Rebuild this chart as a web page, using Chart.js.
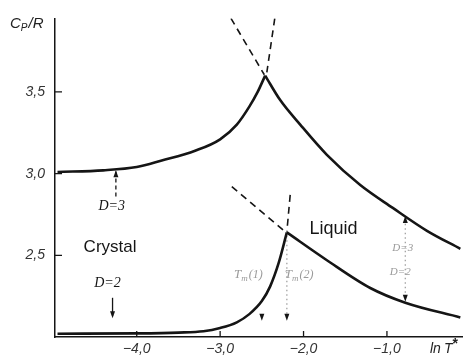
<!DOCTYPE html>
<html lang="en">
<head>
<meta charset="UTF-8">
<title>Cp/R against ln T*</title>
<script src="https://cdn.jsdelivr.net/npm/chart.js"></script>
<style>
  html, body { margin: 0; padding: 0; background: #fff; }
</style>
</head>
<body>
<canvas id="cpChart" width="471" height="358"></canvas>
<script>
// D = 3: crystal branch up to the melting point, then the liquid branch
const lnT3Crystal = [-4.95, -4.4, -4.0, -3.7, -3.3, -3.0, -2.8, -2.65, -2.55, -2.46];
const cp3Crystal  = [3.01, 3.02, 3.04, 3.08, 3.14, 3.21, 3.30, 3.41, 3.50, 3.60];
const lnT3Liquid  = [-2.46, -2.28, -2.04, -1.72, -1.32, -0.93, -0.52, -0.12];
const cp3Liquid   = [3.60, 3.45, 3.30, 3.115, 2.93, 2.79, 2.65, 2.54];

// D = 2
const lnT2Crystal = [-4.95, -4.0, -3.5, -3.2, -3.0, -2.8, -2.65, -2.5, -2.4, -2.3, -2.2];
const cp2Crystal  = [2.02, 2.022, 2.027, 2.035, 2.055, 2.09, 2.14, 2.22, 2.31, 2.45, 2.64];
const lnT2Liquid  = [-2.20, -1.72, -1.20, -0.78, -0.12];
const cp2Liquid   = [2.64, 2.47, 2.30, 2.21, 2.12];

// dashed continuations past the melting points
const lnT3DashA = [-2.87, -2.47];  const cp3DashA = [3.95, 3.605];
const lnT3DashB = [-2.345, -2.44]; const cp3DashB = [3.95, 3.62];
const lnT2DashA = [-2.86, -2.21];  const cp2DashA = [2.92, 2.64];
const lnT2DashB = [-2.16, -2.20];  const cp2DashB = [2.87, 2.645];

// dotted guides: Tm(2) drop line and the D=3 / D=2 gap on the liquid side
const lnTDrop = [-2.20, -2.20];    const cpDrop = [2.62, 2.12];
const lnTGap  = [-0.78, -0.78];    const cpGap  = [2.72, 2.23];

const xTicks = [-4, -3, -2, -1];
const yTicks = [2.5, 3.0, 3.5];

const pts = (xs, ys) => xs.map((x, i) => ({ x: x, y: ys[i] }));
const fmt = v => (v < 0 ? '\u2212' : '') + Math.abs(v).toFixed(1).replace('.', ',');

const INK = '#151515';
const FAINT = '#9a9a9a';

function solid(xs, ys) {
  return { data: pts(xs, ys), borderColor: INK, borderWidth: 2.6, pointRadius: 0,
           cubicInterpolationMode: 'monotone', fill: false };
}
function dashed(xs, ys) {
  return { data: pts(xs, ys), borderColor: INK, borderWidth: 1.6, borderDash: [7, 5],
           pointRadius: 0, tension: 0, fill: false };
}
function dotted(xs, ys) {
  return { data: pts(xs, ys), borderColor: FAINT, borderWidth: 1.2, borderDash: [1.5, 3],
           pointRadius: 0, tension: 0, fill: false };
}

// labels placed in data units
const notes = [
  { text: 'D=3', x: -4.30, y: 2.80, font: 'italic 14px "Liberation Serif"', color: INK },
  { text: 'Crystal', x: -4.32, y: 2.55, font: '17px "Liberation Sans"', color: INK },
  { text: 'D=2', x: -4.35, y: 2.33, font: 'italic 14px "Liberation Serif"', color: INK },
  { text: 'Liquid', x: -1.64, y: 2.66, font: '18px "Liberation Sans"', color: INK },
  { text: 'D=3', x: -0.81, y: 2.545, font: 'italic 11px "Liberation Serif"', color: FAINT },
  { text: 'D=2', x: -0.84, y: 2.40, font: 'italic 11px "Liberation Serif"', color: FAINT }
];
const tmLabels = [
  { sub: '(1)', x: -2.63, y: 2.39 },
  { sub: '(2)', x: -2.02, y: 2.39 }
];
// arrow shafts (x, y from, y to) and arrowheads
const arrowShafts = [
  { x: -4.25, y0: 2.86, y1: 3.02, dash: [4, 3] },
  { x: -4.29, y0: 2.24, y1: 2.13, dash: [] }
];
const heads = [
  { x: -4.25, y: 3.02, dir: -1 },
  { x: -4.29, y: 2.115, dir: 1 },
  { x: -2.50, y: 2.10, dir: 1 },
  { x: -2.20, y: 2.10, dir: 1 },
  { x: -0.78, y: 2.74, dir: -1 },
  { x: -0.78, y: 2.215, dir: 1 }
];

const decor = {
  id: 'decor',
  afterDatasetsDraw(chart) {
    const { ctx, chartArea: a, scales: { x, y } } = chart;
    ctx.save();

    // inward tick marks
    ctx.strokeStyle = INK;
    ctx.lineWidth = 1.3;
    ctx.beginPath();
    yTicks.forEach(v => { const py = y.getPixelForValue(v); ctx.moveTo(a.left, py); ctx.lineTo(a.left + 7, py); });
    xTicks.forEach(v => { const px = x.getPixelForValue(v); ctx.moveTo(px, a.bottom); ctx.lineTo(px, a.bottom - 6); });
    ctx.stroke();

    // arrow shafts
    arrowShafts.forEach(s => {
      const px = x.getPixelForValue(s.x);
      ctx.setLineDash(s.dash);
      ctx.lineWidth = 1.3;
      ctx.beginPath();
      ctx.moveTo(px, y.getPixelForValue(s.y0));
      ctx.lineTo(px, y.getPixelForValue(s.y1));
      ctx.stroke();
    });
    ctx.setLineDash([]);

    // arrowheads, dir 1 points down, -1 up
    ctx.fillStyle = INK;
    heads.forEach(h => {
      const px = x.getPixelForValue(h.x), py = y.getPixelForValue(h.y);
      ctx.beginPath();
      ctx.moveTo(px, py);
      ctx.lineTo(px - 2.5, py - 7 * h.dir);
      ctx.lineTo(px + 2.5, py - 7 * h.dir);
      ctx.closePath();
      ctx.fill();
    });

    // text notes
    ctx.textAlign = 'center';
    ctx.textBaseline = 'middle';
    notes.forEach(n => {
      ctx.font = n.font;
      ctx.fillStyle = n.color;
      ctx.fillText(n.text, x.getPixelForValue(n.x), y.getPixelForValue(n.y));
    });

    // Tm(1), Tm(2)
    ctx.fillStyle = FAINT;
    ctx.textAlign = 'left';
    ctx.textBaseline = 'alphabetic';
    tmLabels.forEach(t => {
      let px = x.getPixelForValue(t.x) - 17, py = y.getPixelForValue(t.y) + 5;
      ctx.font = 'italic 13px "Liberation Serif"';
      ctx.fillText('T', px, py);
      px += ctx.measureText('T').width;
      ctx.font = 'italic 9px "Liberation Serif"';
      ctx.fillText('m', px, py + 3);
      px += ctx.measureText('m').width + 1;
      ctx.font = 'italic 12px "Liberation Serif"';
      ctx.fillText(t.sub, px, py);
    });

    // axis titles
    ctx.fillStyle = '#222';
    let tx = a.left - 45, ty = a.top + 10;
    ctx.font = 'italic 15px "Liberation Sans"';
    ctx.fillText('C', tx, ty);
    tx += ctx.measureText('C').width;
    ctx.font = 'italic 10px "Liberation Sans"';
    ctx.fillText('P', tx, ty + 3);
    tx += ctx.measureText('P').width + 1;
    ctx.font = 'italic 15px "Liberation Sans"';
    ctx.fillText('/R', tx, ty);

    tx = a.right - 32; ty = a.bottom + 16;
    ctx.font = 'italic 14px "Liberation Sans"';
    ctx.fillText('ln', tx, ty);
    tx += ctx.measureText('ln').width + 3;
    ctx.fillText('T', tx, ty);
    tx += ctx.measureText('T').width;
    ctx.font = 'bold 14px "Liberation Sans"';
    ctx.fillText('*', tx, ty - 5);

    ctx.restore();
  }
};

const tickFont = { family: '"Liberation Sans"', size: 14, style: 'italic' };

new Chart(document.getElementById('cpChart'), {
  type: 'line',
  data: {
    datasets: [
      solid(lnT3Crystal, cp3Crystal),
      solid(lnT3Liquid, cp3Liquid),
      solid(lnT2Crystal, cp2Crystal),
      solid(lnT2Liquid, cp2Liquid),
      dashed(lnT3DashA, cp3DashA),
      dashed(lnT3DashB, cp3DashB),
      dashed(lnT2DashA, cp2DashA),
      dashed(lnT2DashB, cp2DashB),
      dotted(lnTDrop, cpDrop),
      dotted(lnTGap, cpGap)
    ]
  },
  options: {
    responsive: false,
    animation: false,
    layout: { padding: { left: 0, top: 15, right: 9, bottom: 0 } },
    plugins: { legend: { display: false }, tooltip: { enabled: false } },
    scales: {
      x: {
        type: 'linear', min: -4.98, max: -0.1,
        afterBuildTicks: s => { s.ticks = xTicks.map(v => ({ value: v })); },
        afterFit: s => { s.height = 21; },
        ticks: { callback: fmt, font: tickFont, color: '#333', padding: 4, maxRotation: 0, autoSkip: false },
        grid: { display: false, drawTicks: false },
        border: { color: INK, width: 1.5 }
      },
      y: {
        type: 'linear', min: 2.0, max: 3.95,
        afterBuildTicks: s => { s.ticks = yTicks.map(v => ({ value: v })); },
        afterFit: s => { s.width = 55; },
        ticks: { callback: fmt, font: tickFont, color: '#333', padding: 10, autoSkip: false },
        grid: { display: false, drawTicks: false },
        border: { color: INK, width: 1.5 }
      }
    }
  },
  plugins: [decor]
});
</script>
</body>
</html>
